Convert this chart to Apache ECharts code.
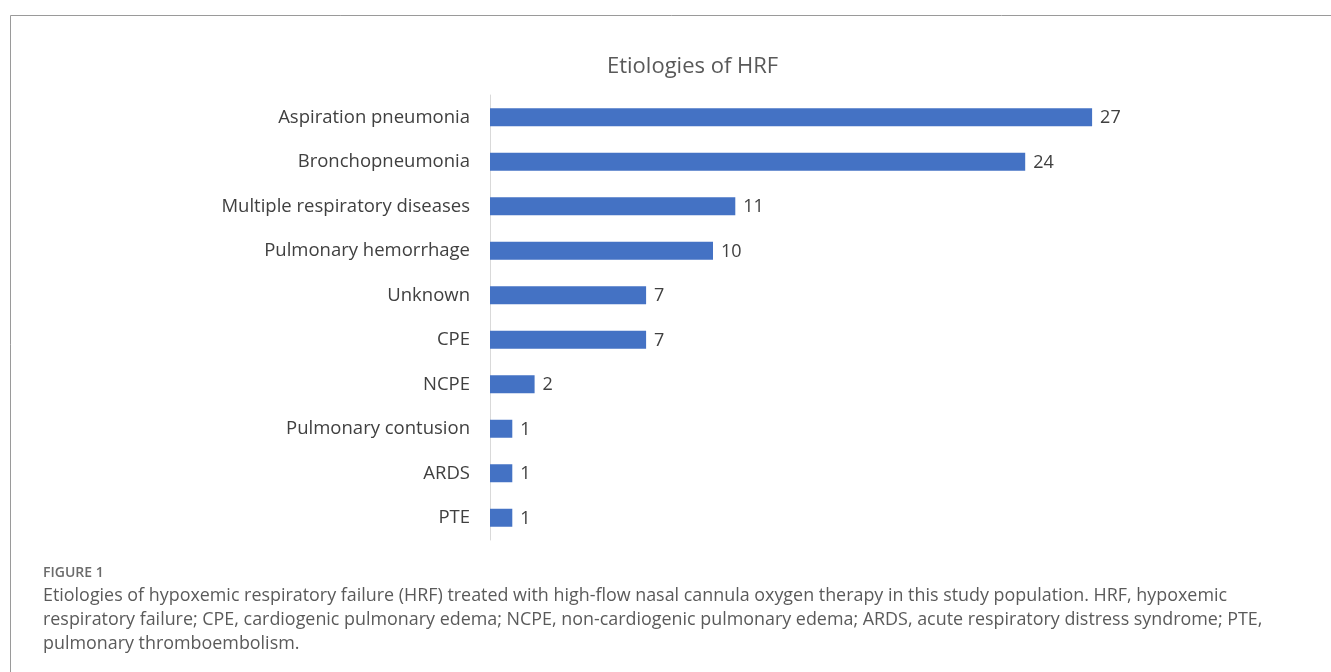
<!DOCTYPE html>
<html>
<head>
<meta charset="utf-8">
<script src="https://cdn.jsdelivr.net/npm/echarts@6/dist/echarts.min.js"></script>
<style>html,body{margin:0;padding:0;background:#fff;}#c{width:1331px;height:672px;}</style>
</head>
<body>
<div id="c"></div>
<script>
var categories = ["Aspiration pneumonia","Bronchopneumonia","Multiple respiratory diseases","Pulmonary hemorrhage","Unknown","CPE","NCPE","Pulmonary contusion","ARDS","PTE"];
var values = [27,24,11,10,7,7,2,1,1,1];
var titleText = "Etiologies of HRF";
var figureLabel = "FIGURE 1";
var captionLines = [
  "Etiologies of hypoxemic respiratory failure (HRF) treated with high-flow nasal cannula oxygen therapy in this study population. HRF, hypoxemic",
  "respiratory failure; CPE, cardiogenic pulmonary edema; NCPE, non-cardiogenic pulmonary edema; ARDS, acute respiratory distress syndrome; PTE,",
  "pulmonary thromboembolism."
];

var chart = echarts.init(document.getElementById('c'), null, {renderer:'canvas'});
var chartFont = 'Open Sans';
var capFont = 'Open Sans';
var graphics = [
  {type:'rect', shape:{x:10.5,y:15.5,width:1400,height:700}, style:{fill:'none',stroke:'#9a9a9a',lineWidth:1}, silent:true},
  {type:'text', left:43, top:566, style:{text:figureLabel, font:'600 14px ' + capFont, fill:'#6b6b6b'}}
];
captionLines.forEach(function(t,i){
  graphics.push({type:'text', left:43, top:587 + i*24, style:{text:t, font:'17.9px ' + capFont, fill:'#5a5a5a'}});
});
chart.setOption({
  animation:false,
  title:{text:titleText, left:602, top:51, textStyle:{fontFamily:chartFont, fontSize:22, fontWeight:'normal', color:'#595959'}},
  grid:{left:490, top:95, right:172, bottom:132, containLabel:false},
  xAxis:{type:'value', min:0, max:30, show:false, splitLine:{show:false}},
  yAxis:{type:'category', data:categories, inverse:true,
    axisLine:{show:true, lineStyle:{color:'#d9d9d9', width:1}},
    axisTick:{show:false},
    axisLabel:{fontFamily:chartFont, fontSize:18.5, color:'#404040', margin:20}
  },
  series:[{type:'bar', data:values, barWidth:18,
    itemStyle:{color:'#4472C4'},
    label:{show:true, position:'right', distance:8, fontFamily:chartFont, fontSize:18, color:'#404040', offset:[0,1]}
  }],
  graphic:graphics
});
</script>
</body>
</html>
